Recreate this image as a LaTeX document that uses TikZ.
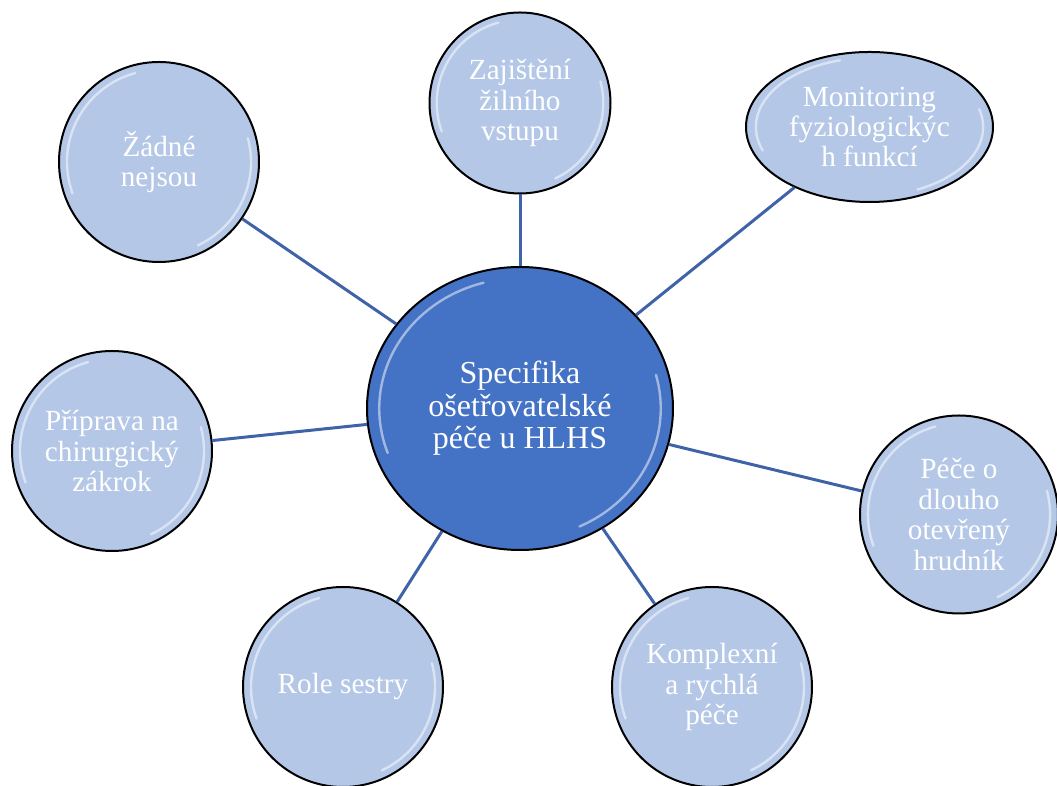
\documentclass[tikz,border=0pt]{standalone}
\usepackage{fontspec}
\setmainfont{Liberation Serif}
\usepackage{tikz}
\usetikzlibrary{shapes.geometric}
\definecolor{hubblue}{HTML}{4472C4}
\definecolor{leafblue}{HTML}{B4C7E7}
\definecolor{linkblue}{HTML}{3F63A9}

\begin{document}
\begin{tikzpicture}[x=.5pt,y=.5pt,
  hub/.style={ellipse,draw=black,line width=1pt,fill=hubblue,text=white,align=center,inner sep=0pt,
    minimum width=153pt,minimum height=141.5pt,font=\fontsize{16}{16.3}\selectfont},
  leaf/.style={circle,draw=black,line width=1pt,fill=leafblue,text=white,align=center,inner sep=0pt,
    minimum size=100pt,font=\fontsize{14.6}{15.2}\selectfont},
  link/.style={draw=linkblue,line width=1.5pt},
  gloss/.style={white,opacity=.5,line width=1.2pt,line cap=round}]
\useasboundingbox (0,0) rectangle (1057,786);
% centre
\node[hub] (hub) at (520,377.5) {Specifika\\ošetřovatelské\\péče u HLHS};
% leaves
\node[leaf] (zadne) at (159,624) {Žádné\\nejsou};
\node[leaf,minimum size=90.5pt] (zajisteni) at (520,683) {Zajištění\\žilního\\vstupu};
\node[leaf,ellipse,minimum width=123.5pt,minimum height=75pt] (monitoring) at (869.5,659) {Monitoring\\fyziologickýc\\h funkcí};
\node[leaf] (priprava) at (112,335) {Příprava na\\chirurgický\\zákrok};
\node[leaf,minimum size=99pt] (pece) at (959,271.5) {Péče o\\dlouho\\otevřený\\hrudník};
\node[leaf] (komplexni) at (712,99) {Komplexní\\a rychlá\\péče};
\node[leaf] (role) at (343,99) {Role sestry};
% links
\foreach \n in {zadne,zajisteni,monitoring,priprava,pece,komplexni,role}
  \draw[link] (hub) -- (\n);
% shine
\foreach \n/\rx/\ry in {hub/153/141.5,zadne/100/100,zajisteni/90.5/90.5,monitoring/123.5/75,
    priprava/100/100,pece/99/99,komplexni/100/100,role/100/100}{
  \draw[gloss] (\n.center) ++(105:{0.46*\rx pt} and {0.46*\ry pt})
    arc[start angle=105,end angle=200,x radius={0.46*\rx pt},y radius={0.46*\ry pt}];
  \draw[gloss] (\n.center) ++(-65:{0.46*\rx pt} and {0.46*\ry pt})
    arc[start angle=-65,end angle=15,x radius={0.46*\rx pt},y radius={0.46*\ry pt}];
}
\end{tikzpicture}
\end{document}
